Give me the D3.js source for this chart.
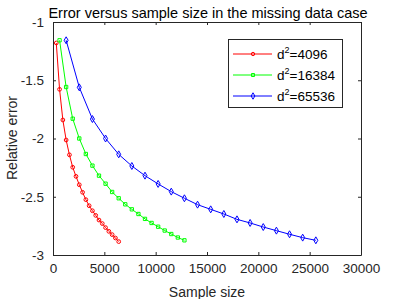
<!DOCTYPE html>
<html>
<head>
<meta charset="utf-8">
<script src="https://d3js.org/d3.v7.min.js"></script>
<style>
  body { margin: 0; background: #fff; }
  text { font-family: "Liberation Sans", Arial, sans-serif; }
</style>
</head>
<body>
<div id="chart"></div>
<script>
// sample sizes for each case
var xRed = [320,640,960,1280,1600,1920,2240,2560,2880,3200,3520,3840,4160,4480,4800,5120,5440,5760,6080,6400];
var xGreen = [640,1280,1920,2560,3200,3840,4480,5120,5760,6400,7040,7680,8320,8960,9600,10240,10880,11520,12160,12800];
var xBlue = [1280,2560,3840,5120,6400,7680,8960,10240,11520,12800,14080,15360,16640,17920,19200,20480,21760,23040,24320,25600];

var yRed = [-1.18,-1.578,-1.841,-2.013,-2.14,-2.247,-2.325,-2.397,-2.462,-2.525,-2.577,-2.62,-2.66,-2.70,-2.73,-2.765,-2.797,-2.825,-2.854,-2.885];
var yGreen = [-1.157,-1.558,-1.83,-2.0,-2.133,-2.233,-2.319,-2.388,-2.459,-2.513,-2.565,-2.608,-2.648,-2.69,-2.725,-2.757,-2.79,-2.82,-2.85,-2.874];
var yBlue = [-1.157,-1.561,-1.833,-2.0,-2.136,-2.236,-2.319,-2.39,-2.456,-2.513,-2.568,-2.608,-2.648,-2.694,-2.725,-2.76,-2.791,-2.822,-2.851,-2.874];

var seriesNames = ["4096", "16384", "65536"];
var xTicks = [0, 5000, 10000, 15000, 20000, 25000, 30000];
var yTicks = [-1, -1.5, -2, -2.5, -3];

var width = 399, height = 299;
var margin = { top: 22, right: 38, bottom: 44, left: 53 };

var svg = d3.select("#chart").append("svg")
  .attr("width", width)
  .attr("height", height);

var x = d3.scaleLinear().domain([0, 30000]).range([margin.left, width - margin.right]);
var y = d3.scaleLinear().domain([-3, -1]).range([height - margin.bottom, margin.top]);

var series = [
  { name: seriesNames[0], xs: xRed, ys: yRed, color: "#ff0000", marker: d3.symbolCircle },
  { name: seriesNames[1], xs: xGreen, ys: yGreen, color: "#00ff00", marker: d3.symbolSquare },
  { name: seriesNames[2], xs: xBlue, ys: yBlue, color: "#0000ff", marker: d3.symbolDiamond }
];

// plain number labels, hyphen as minus like matlab
var fmt = function (d) { return String(d); };

// axes, matlab style box with inward ticks
var axisCol = "#262626";
var gx = svg.append("g").attr("transform", "translate(0," + y(-3) + ")")
  .call(d3.axisBottom(x).tickValues(xTicks).tickSizeInner(-3).tickSizeOuter(0).tickPadding(8).tickFormat(fmt));
var gxt = svg.append("g").attr("transform", "translate(0," + y(-1) + ")")
  .call(d3.axisTop(x).tickValues(xTicks).tickSizeInner(-3).tickSizeOuter(0).tickFormat(""));
var gy = svg.append("g").attr("transform", "translate(" + x(0) + ",0)")
  .call(d3.axisLeft(y).tickValues(yTicks).tickSizeInner(-3).tickSizeOuter(0).tickPadding(9).tickFormat(fmt));
var gyr = svg.append("g").attr("transform", "translate(" + x(30000) + ",0)")
  .call(d3.axisRight(y).tickValues(yTicks).tickSizeInner(-3).tickSizeOuter(0).tickFormat(""));

[gx, gxt, gy, gyr].forEach(function (g) {
  g.selectAll("path").attr("stroke", axisCol);
  g.selectAll("line").attr("stroke", axisCol);
  g.selectAll("text").attr("fill", axisCol).style("font-size", "13.5px")
    .style("font-family", "'Liberation Sans', Arial, sans-serif");
});

var line = d3.line();

series.forEach(function (s) {
  var pts = s.xs.map(function (v, i) { return [x(v), y(s.ys[i])]; });
  svg.append("path")
    .attr("d", line(pts))
    .attr("fill", "none")
    .attr("stroke", s.color)
    .attr("stroke-width", 1);
  svg.append("g").selectAll("path")
    .data(pts)
    .enter()
    .append("path")
    .attr("transform", function (p) { return "translate(" + p[0] + "," + p[1] + ")"; })
    .attr("d", d3.symbol().type(s.marker).size(s.marker === d3.symbolDiamond ? 14 : 11))
    .attr("fill", "none")
    .attr("stroke", s.color)
    .attr("stroke-width", 1);
});

// legend
var lg = svg.append("g");
lg.append("rect")
  .attr("x", 228.5).attr("y", 39.5)
  .attr("width", 114).attr("height", 68)
  .attr("fill", "#fff")
  .attr("stroke", axisCol)
  .attr("stroke-width", 1);

series.forEach(function (s, i) {
  var ly = 54 + i * 21;
  lg.append("line")
    .attr("x1", 233).attr("x2", 272)
    .attr("y1", ly).attr("y2", ly)
    .attr("stroke", s.color).attr("stroke-width", 1);
  lg.append("path")
    .attr("transform", "translate(253," + ly + ")")
    .attr("d", d3.symbol().type(s.marker).size(s.marker === d3.symbolDiamond ? 12 : 9))
    .attr("fill", "none").attr("stroke", s.color);
  var t = lg.append("text")
    .attr("x", 277).attr("y", ly + 5)
    .attr("fill", "#000")
    .style("font-size", "13.5px");
  t.append("tspan").text("d");
  t.append("tspan").attr("dy", -6).style("font-size", "9px").text("2");
  t.append("tspan").attr("dy", 6).text("=" + s.name);
});

// title and axis labels
svg.append("text")
  .attr("x", 208).attr("y", 18)
  .attr("text-anchor", "middle")
  .style("font-size", "14.5px")
  .attr("fill", "#000")
  .text("Error versus sample size in the missing data case");

svg.append("text")
  .attr("x", 207).attr("y", 297)
  .attr("text-anchor", "middle")
  .style("font-size", "14px")
  .attr("fill", axisCol)
  .text("Sample size");

svg.append("text")
  .attr("transform", "translate(17," + 138 + ") rotate(-90)")
  .attr("text-anchor", "middle")
  .style("font-size", "14px")
  .attr("fill", axisCol)
  .text("Relative error");
</script>
</body>
</html>
